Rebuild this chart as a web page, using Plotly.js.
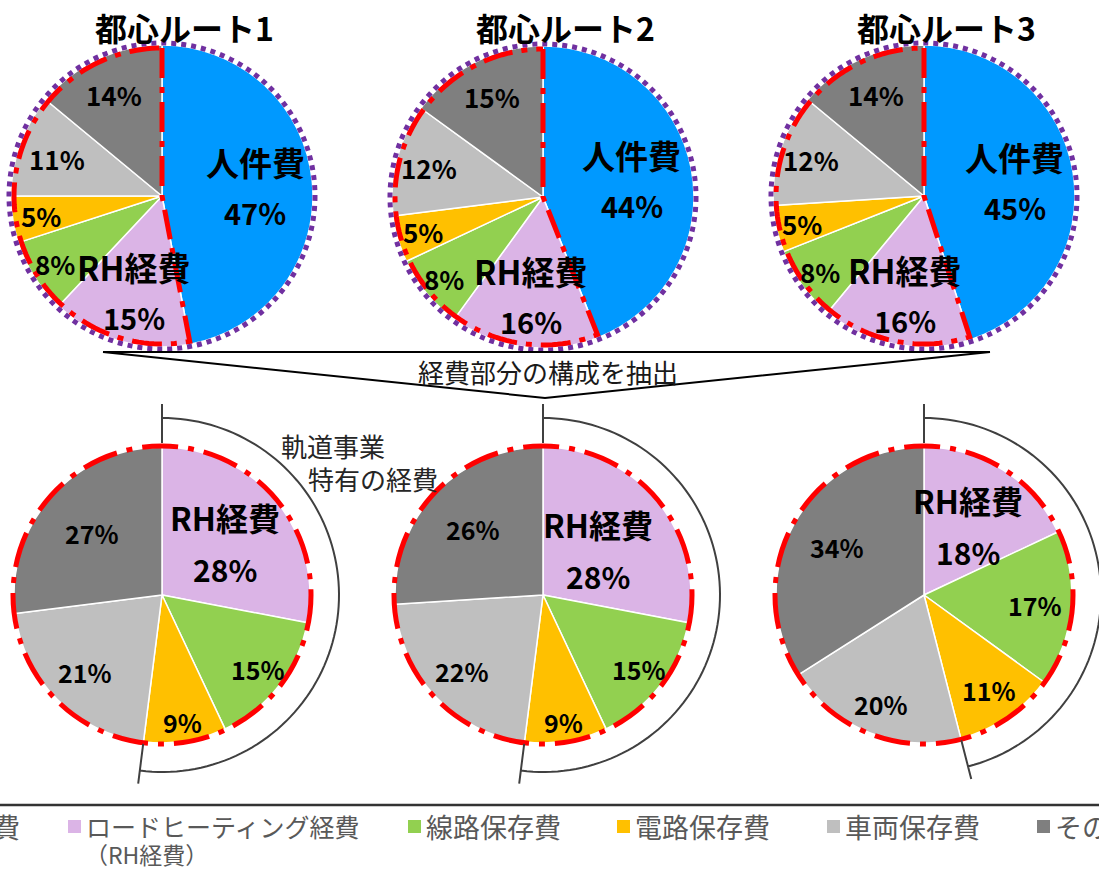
<!DOCTYPE html>
<html><head><meta charset="utf-8">
<script src="https://cdn.plot.ly/plotly-3.0.1.min.js"></script>
<style>html,body{margin:0;padding:0;background:#fff}#chart{width:1099px;height:874px}</style>
</head><body><div id="chart"></div>
<script>
// ---------- data ----------
const CATEGORIES = ['人件費','ロードヒーティング経費（RH経費）','線路保存費','電路保存費','車両保存費','その他'];
const EXPENSE_CATEGORIES = ['ロードヒーティング経費（RH経費）','線路保存費','電路保存費','車両保存費','その他'];
const SLICE_NAMES = ['人件費','RH経費','','','',''];
const EXPENSE_SLICE_NAMES = ['RH経費','','','',''];
const ROUTES = ['都心ルート1','都心ルート2','都心ルート3'];
const TOTAL_ROUTE1 = [47,15,8,5,11,14];
const TOTAL_ROUTE2 = [44,16,8,5,12,15];
const TOTAL_ROUTE3 = [45,16,8,5,12,14];
const EXPENSE_ROUTE1 = [28,15,9,21,27];
const EXPENSE_ROUTE2 = [28,15,9,22,26];
const EXPENSE_ROUTE3 = [18,17,11,20,34];
const LEGEND_LABELS = ['人件費','ロードヒーティング経費','線路保存費','電路保存費','車両保存費','その他'];
const LEGEND_SUB = '（RH経費）';
const CENTER_TEXT = '経費部分の構成を抽出';
const BRACKET_TEXT = ['軌道事業','特有の経費'];

// ---------- style ----------
const W = 1099, H = 874;
const FONT = "'Noto Sans CJK JP','Noto Sans',sans-serif";
const COLORS = ['#0099FF','#DBB4E6','#92D050','#FFC000','#BFBFBF','#7F7F7F'];
const TOP_CENTERS = [[162,196],[543,197],[924,196]], TOP_R = 151;
const BOT_CENTERS = [[162,595],[543,595],[924,595]], BOT_R = 148;
const TOP_LABEL_R = [[0.62,0.66,0.84,0.81,0.74,0.74],[0.60,0.66,0.85,0.83,0.78,0.75],[0.61,0.67,0.85,0.83,0.79,0.74]];
const BOT_LABEL_R = [[0.55,0.82,0.87,0.74,0.63],[0.48,0.82,0.87,0.75,0.65],[0.55,0.75,0.78,0.79,0.67]];
const LEGEND_SQ_X = [-79,68,408,617,827,1037];
const LEGEND_SIZE = [27,25,27,27,27,27];

const X = p => p / W, Y = p => 1 - p / H;
const pt = (cx, cy, r, deg) => [cx + r * Math.sin(deg * Math.PI / 180), cy - r * Math.cos(deg * Math.PI / 180)];
const P = (a) => X(a[0]).toFixed(5) + ',' + Y(a[1]).toFixed(5);

const totals = [TOTAL_ROUTE1, TOTAL_ROUTE2, TOTAL_ROUTE3];
const expenses = [EXPENSE_ROUTE1, EXPENSE_ROUTE2, EXPENSE_ROUTE3];

const data = [], shapes = [], annotations = [];

function pieTrace(labels, values, colors, c, r) {
  return {
    type: 'pie', labels: labels, values: values, sort: false, direction: 'clockwise', rotation: 0,
    marker: {colors: colors, line: {color: '#FFFFFF', width: 1.5}},
    textinfo: 'none', hoverinfo: 'label+percent', showlegend: false,
    domain: {x: [X(c[0] - r), X(c[0] + r)], y: [Y(c[1] + r), Y(c[1] - r)]}
  };
}

function addLabels(values, names, c, r, factors, nameSize, bigSize, smallSize, gap) {
  const sum = values.reduce((a, b) => a + b, 0);
  let cum = 0;
  values.forEach((v, i) => {
    const mid = 360 * (cum + v / 2) / sum;
    cum += v;
    const p = pt(c[0], c[1], r * factors[i], mid);
    const pct = Math.round(100 * v / sum) + '%';
    if (names[i]) {
      annotations.push({xref:'paper', yref:'paper', x: X(p[0]), y: Y(p[1] - gap), text: '<b>' + names[i] + '</b>', showarrow: false,
        font: {family: FONT, size: nameSize, color: '#000'}, xanchor: 'center', yanchor: 'middle'});
      annotations.push({xref:'paper', yref:'paper', x: X(p[0]), y: Y(p[1] + gap), text: '<b>' + pct + '</b>', showarrow: false,
        font: {family: FONT, size: bigSize, color: '#000'}, xanchor: 'center', yanchor: 'middle'});
    } else {
      annotations.push({xref:'paper', yref:'paper', x: X(p[0]), y: Y(p[1]), text: '<b>' + pct + '</b>', showarrow: false,
        font: {family: FONT, size: smallSize, color: '#000'}, xanchor: 'center', yanchor: 'middle'});
    }
  });
}

function arcPoints(c, r, a0, a1) {
  const pts = [];
  const n = Math.max(8, Math.ceil(Math.abs(a1 - a0) / 2));
  for (let k = 0; k <= n; k++) pts.push(pt(c[0], c[1], r, a0 + (a1 - a0) * k / n));
  return pts;
}

// top pies
totals.forEach((vals, k) => {
  const c = TOP_CENTERS[k], r = TOP_R;
  data.push(pieTrace(CATEGORIES, vals, COLORS, c, r));
  const sum = vals.reduce((a, b) => a + b, 0);
  const a = 360 * vals[0] / sum;
  // red dash-dot outline of the expense part
  const rr = r - 3;
  let path = 'M' + P(pt(c[0], c[1], rr, 0)) + ' L' + P(c) + ' L' + P(pt(c[0], c[1], rr, a));
  arcPoints(c, rr, a, 360).forEach(q => { path += ' L' + P(q); });
  shapes.push({type: 'path', xref: 'paper', yref: 'paper', path: path, line: {color: '#FF0000', width: 5, dash: '30px,9px,6px,9px'}});
  // purple dotted outline
  shapes.push({type: 'circle', xref: 'paper', yref: 'paper', x0: X(c[0] - r - 2), x1: X(c[0] + r + 2), y0: Y(c[1] + r + 2), y1: Y(c[1] - r - 2),
    line: {color: '#7030A0', width: 5, dash: '5px,5px'}});
  addLabels(vals, SLICE_NAMES, c, r, TOP_LABEL_R[k], 33, 29, 26, 25);
  annotations.push({xref:'paper', yref:'paper', x: X(c[0] + 22), y: Y(27), text: '<b>' + ROUTES[k] + '</b>', showarrow: false,
    font: {family: FONT, size: 32, color: '#000'}, xanchor: 'center', yanchor: 'middle'});
});

// bottom pies
expenses.forEach((vals, k) => {
  const c = BOT_CENTERS[k], r = BOT_R;
  data.push(pieTrace(EXPENSE_CATEGORIES, vals, COLORS.slice(1), c, r));
  shapes.push({type: 'circle', xref: 'paper', yref: 'paper', x0: X(c[0] - r - 1), x1: X(c[0] + r + 1), y0: Y(c[1] + r + 1), y1: Y(c[1] - r - 1),
    line: {color: '#FF0000', width: 5, dash: '36px,10px,6px,10px'}});
  const sum = vals.reduce((a, b) => a + b, 0);
  const e = 360 * (vals[0] + vals[1] + vals[2]) / sum;
  let path = 'M' + P(pt(c[0], c[1], 191, 0)) + ' L' + P(pt(c[0], c[1], 152, 0));
  path += ' M' + P(pt(c[0], c[1], 177, 0));
  arcPoints(c, 177, 0, e).forEach(q => { path += ' L' + P(q); });
  path += ' M' + P(pt(c[0], c[1], 150, e)) + ' L' + P(pt(c[0], c[1], 190, e));
  shapes.push({type: 'path', xref: 'paper', yref: 'paper', path: path, line: {color: '#404040', width: 2}});
  addLabels(vals, EXPENSE_SLICE_NAMES, c, r, BOT_LABEL_R[k], 32, 30, 25, 26);
});

// bracket caption
annotations.push({xref:'paper', yref:'paper', x: X(279), y: Y(445), text: BRACKET_TEXT[0], showarrow: false,
  font: {family: FONT, size: 26, color: '#262626'}, xanchor: 'left', yanchor: 'middle'});
annotations.push({xref:'paper', yref:'paper', x: X(306), y: Y(478), text: BRACKET_TEXT[1], showarrow: false,
  font: {family: FONT, size: 26, color: '#262626'}, xanchor: 'left', yanchor: 'middle'});

// funnel connector
shapes.push({type: 'path', xref: 'paper', yref: 'paper',
  path: 'M' + P([103,352]) + ' L' + P([990,352]) + ' M' + P([103,352]) + ' L' + P([545,398]) + ' L' + P([990,352]),
  line: {color: '#000', width: 2}});
annotations.push({xref:'paper', yref:'paper', x: X(548), y: Y(372), text: CENTER_TEXT, showarrow: false,
  font: {family: FONT, size: 26, color: '#1a1a1a'}, xanchor: 'center', yanchor: 'middle'});

// legend
shapes.push({type: 'line', xref: 'paper', yref: 'paper', x0: 0, x1: 1, y0: Y(805), y1: Y(805), line: {color: '#333333', width: 2.5}});
LEGEND_LABELS.forEach((lab, i) => {
  const sx = LEGEND_SQ_X[i];
  shapes.push({type: 'rect', xref: 'paper', yref: 'paper', x0: X(sx), x1: X(sx + 13), y0: Y(833), y1: Y(820),
    fillcolor: COLORS[i], line: {width: 0}});
  annotations.push({xref:'paper', yref:'paper', x: X(sx + 16), y: Y(826), text: lab, showarrow: false,
    font: {family: FONT, size: LEGEND_SIZE[i], color: '#595959'}, xanchor: 'left', yanchor: 'middle'});
});
annotations.push({xref:'paper', yref:'paper', x: X(LEGEND_SQ_X[1] + 16), y: Y(854), text: LEGEND_SUB, showarrow: false,
  font: {family: FONT, size: 23, color: '#595959'}, xanchor: 'left', yanchor: 'middle', borderpad: 0});

Plotly.newPlot('chart', data, {
  width: W, height: H, margin: {l: 0, r: 0, t: 0, b: 0},
  paper_bgcolor: '#FFFFFF', plot_bgcolor: '#FFFFFF', showlegend: false,
  shapes: shapes, annotations: annotations
}, {displayModeBar: false, staticPlot: true});
</script></body></html>
